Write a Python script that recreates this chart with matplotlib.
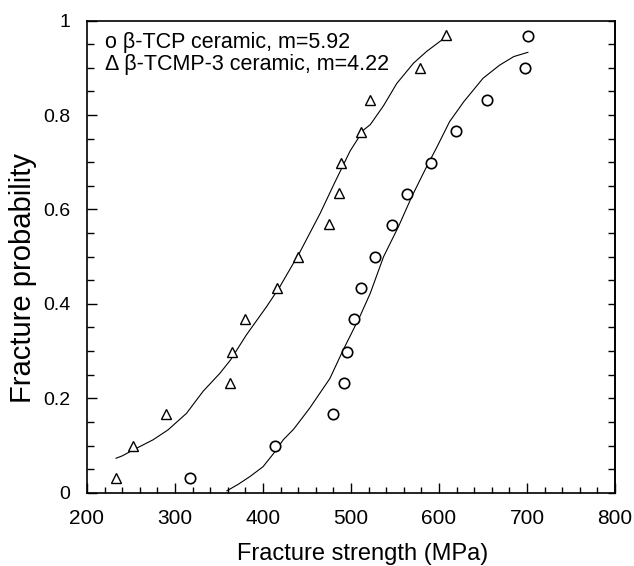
import matplotlib
matplotlib.use("Agg")
import matplotlib.pyplot as plt
import numpy as np

plt.rcParams['font.family'] = ['Liberation Sans', 'DejaVu Sans']

# ---- data ----
tcp_strength = [317, 414, 480, 492, 496, 503, 511, 527, 547, 564, 591, 619, 655, 698, 701]
tcp_prob = [0.032, 0.099, 0.167, 0.233, 0.299, 0.367, 0.434, 0.500, 0.568, 0.633, 0.699, 0.767, 0.833, 0.899, 0.968]

tcmp_strength = [233, 252, 290, 362, 365, 380, 416, 440, 475, 486, 489, 511, 522, 578, 608]
tcmp_prob = [0.032, 0.098, 0.167, 0.233, 0.299, 0.367, 0.433, 0.500, 0.569, 0.634, 0.699, 0.765, 0.832, 0.899, 0.970]

tcp_fit_x = [359, 372, 385, 400, 412, 423, 435, 453, 476, 491, 510, 522, 537, 554,
             569, 586, 597, 612, 628, 650, 669, 685, 701]
tcp_fit_y = [0.004, 0.018, 0.034, 0.055, 0.083, 0.112, 0.135, 0.179, 0.242, 0.302, 0.373,
             0.423, 0.500, 0.564, 0.627, 0.691, 0.730, 0.786, 0.828, 0.878, 0.906, 0.924, 0.933]

tcmp_fit_x = [233, 240, 255, 275, 292, 313, 332, 351, 363, 381, 404, 419, 442, 465,
              482, 499, 514, 522, 537, 552, 571, 586, 601, 608]
tcmp_fit_y = [0.073, 0.078, 0.093, 0.112, 0.133, 0.168, 0.215, 0.253, 0.281, 0.334, 0.394,
              0.436, 0.510, 0.592, 0.659, 0.724, 0.768, 0.780, 0.820, 0.867, 0.910, 0.935,
              0.956, 0.965]

legend_lines = ["o \u03b2-TCP ceramic, m=5.92", "\u0394 \u03b2-TCMP-3 ceramic, m=4.22"]
x_ticks = [200, 300, 400, 500, 600, 700, 800]
y_ticks = [0, 0.2, 0.4, 0.6, 0.8, 1.0]
y_tick_labels = ["0", "0.2", "0.4", "0.6", "0.8", "1"]

# ---- figure ----
fig = plt.figure(figsize=(6.34, 5.66), dpi=100)
ax = fig.add_axes([87/634, 1-492.7/566, (615-87)/634, (492.7-20.7)/566])

ax.plot(tcp_fit_x, tcp_fit_y, color='black', lw=0.8)
ax.plot(tcmp_fit_x, tcmp_fit_y, color='black', lw=0.8)
ax.plot(tcp_strength, tcp_prob, 'o', ms=7.5, mfc='white', mec='black', mew=1.2, ls='none')
ax.plot(tcmp_strength, tcmp_prob, '^', ms=7.5, mfc='white', mec='black', mew=1.0, ls='none')

ax.set_xlim(200, 800)
ax.set_ylim(0, 1)
ax.set_xticks(x_ticks)
ax.set_xticks(np.arange(200, 801, 20), minor=True)
ax.set_yticks(y_ticks)
ax.set_yticklabels(y_tick_labels)
ax.set_yticks(np.arange(0, 1.001, 0.05), minor=True)

ax.tick_params(axis='both', which='both', direction='in', right=False, top=False)
ax.tick_params(axis='x', which='major', length=7, width=1.0, labelsize=15, pad=12)
ax.tick_params(axis='x', which='minor', length=4.5, width=1.0)
ax.tick_params(axis='y', which='major', length=7, width=1.0, labelsize=14, pad=12)
ax.tick_params(axis='y', which='minor', length=5, width=1.0)

sec = ax.secondary_yaxis('right')
sec.set_yticks(np.arange(0, 1.001, 0.05))
sec.tick_params(direction='in', length=5, width=1.0, labelright=False)
sec.spines['right'].set_linewidth(1.2)

for s in ax.spines.values():
    s.set_linewidth(1.2)

ax.set_xlabel("Fracture strength (MPa)", fontsize=17)
ax.set_ylabel("Fracture probability", fontsize=21)
ax.xaxis.set_label_coords((363-87)/528, -(543-492.7)/472)
ax.yaxis.set_label_coords(-(87-37)/528, (492.7-278)/472)

for i, line in enumerate(legend_lines):
    ax.text((105-87)/528, (492.7-(43+22*i))/472, line, transform=ax.transAxes,
            fontsize=15.5, va='center', ha='left')

fig.savefig("out.png", dpi=100)
